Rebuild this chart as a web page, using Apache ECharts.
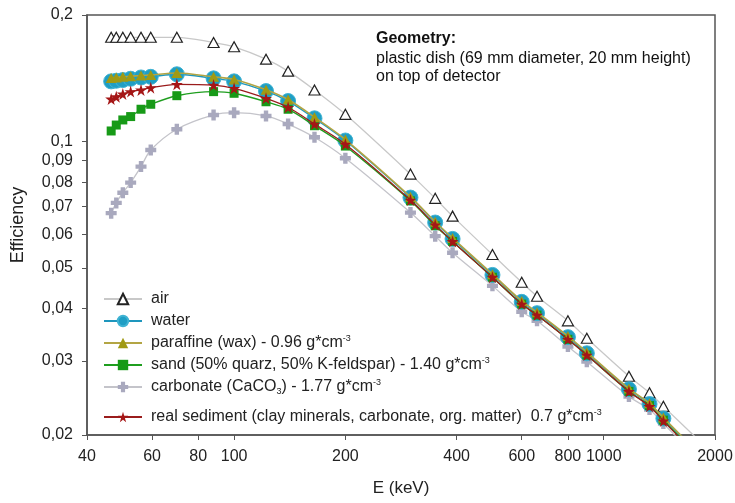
<!DOCTYPE html>
<html>
<head>
<meta charset="utf-8">
<script src="https://cdn.jsdelivr.net/npm/echarts@6/dist/echarts.min.js"></script>
<style>
  html, body { margin: 0; padding: 0; background: #fff; }
  #main { width: 735px; height: 503px; }
</style>
</head>
<body>
<div id="main"></div>
<script>
// gamma energies (keV)
const energies = [46.5, 48, 50, 52.5, 56, 59.5, 70, 88, 100, 122, 140, 165, 200, 300, 350, 390, 500, 600, 660, 800, 900, 1170, 1330, 1450];

const air = [0.177, 0.177, 0.177, 0.177, 0.177, 0.177, 0.177, 0.172, 0.168, 0.157, 0.147, 0.1326, 0.116, 0.0836, 0.0732, 0.0664, 0.0538, 0.0462, 0.0428, 0.0374, 0.034, 0.0276, 0.0252, 0.0234];
const water = [0.139, 0.1395, 0.140, 0.141, 0.142, 0.1425, 0.1445, 0.1413, 0.139, 0.1318, 0.1248, 0.1135, 0.1005, 0.0735, 0.0641, 0.0586, 0.0481, 0.0415, 0.039, 0.0342, 0.0313, 0.0257, 0.0237, 0.0219];
const paraffine = [0.1415, 0.142, 0.1425, 0.143, 0.1435, 0.144, 0.1455, 0.1425, 0.1405, 0.1328, 0.1258, 0.1142, 0.101, 0.0738, 0.0644, 0.0589, 0.0483, 0.0417, 0.0392, 0.0344, 0.0315, 0.0258, 0.0238, 0.022];
const sand = [0.1059, 0.1094, 0.1125, 0.1146, 0.1193, 0.1226, 0.1285, 0.1314, 0.1302, 0.1243, 0.1193, 0.109, 0.0975, 0.0722, 0.063, 0.0578, 0.0475, 0.041, 0.0386, 0.0338, 0.031, 0.0254, 0.0235, 0.0217];
const carbonate = [0.0675, 0.0714, 0.0755, 0.0798, 0.0871, 0.0954, 0.1069, 0.1156, 0.1171, 0.115, 0.110, 0.1023, 0.0912, 0.0677, 0.0595, 0.0543, 0.0453, 0.0393, 0.0374, 0.0325, 0.0299, 0.0247, 0.023, 0.0213];
const sediment = [0.1262, 0.1278, 0.1297, 0.1314, 0.1326, 0.1343, 0.1368, 0.1362, 0.1338, 0.1267, 0.1206, 0.110, 0.0985, 0.0725, 0.0633, 0.0578, 0.0475, 0.041, 0.0386, 0.0338, 0.031, 0.0254, 0.0234, 0.0216];

// where the fitted curves run out past the last point (air, water, paraffine, sand, carbonate, sediment)
const endEnergy = [1800, 1700, 1700, 1700, 1700, 1700];
const endValue = [0.0195, 0.019, 0.0191, 0.0188, 0.01845, 0.0187];

const xTicks = [40, 60, 80, 100, 200, 400, 600, 800, 1000, 2000];
const yTicks = [0.02, 0.03, 0.04, 0.05, 0.06, 0.07, 0.08, 0.09, 0.1, 0.2];
const yTickLabels = ['0,02', '0,03', '0,04', '0,05', '0,06', '0,07', '0,08', '0,09', '0,1', '0,2'];

const names = [
  'air',
  'water',
  'paraffine (wax) - 0.96 g*cm{sup|-3}',
  'sand (50% quarz, 50% K-feldspar) - 1.40 g*cm{sup|-3}',
  'carbonate (CaCO{sub|3}) - 1.77 g*cm{sup|-3}',
  'real sediment (clay minerals, carbonate, org. matter)  0.7 g*cm{sup|-3}'
];

const FONT = '"Liberation Sans", Arial, sans-serif';
const STAR = 'path://M50,0 L61,35 L98,35 L68,57 L79,91 L50,70 L21,91 L32,57 L2,35 L39,35 Z';
const PLUS = 'path://M3,0H7V3H10V7H7V10H3V7H0V3H3Z';

function points(vals, i) {
  let d = energies.map((e, k) => [Math.log10(e), Math.log10(vals[k])]);
  d.push({ value: [Math.log10(endEnergy[i]), Math.log10(endValue[i])], symbol: 'none' });
  return d;
}

function nearestLabel(v, ticks, labels) {
  let best = 0;
  ticks.forEach((t, i) => {
    if (Math.abs(Math.log10(t) - v) < Math.abs(Math.log10(ticks[best]) - v)) best = i;
  });
  return labels[best];
}

function mkSeries(i, vals, opts) {
  return Object.assign({
    name: names[i],
    type: 'line',
    smooth: 0.3,
    data: points(vals, i),
    showAllSymbol: true,
    clip: true
  }, opts);
}

let chart = echarts.init(document.getElementById('main'));

let series = [
  mkSeries(0, air, {
    symbol: 'triangle', symbolSize: [11, 10], z: 2,
    lineStyle: { color: '#c8c8c8', width: 1.3 },
    itemStyle: { color: '#fff', borderColor: '#222', borderWidth: 1.2 }
  }),
  mkSeries(4, carbonate, {
    symbol: PLUS, symbolSize: 11, z: 3,
    lineStyle: { color: '#c4c4ca', width: 1.3 },
    itemStyle: { color: '#a9a9be' }
  }),
  mkSeries(1, water, {
    symbol: 'circle', symbolSize: 15, z: 4,
    lineStyle: { color: '#1e96bd', width: 1.4 },
    itemStyle: { color: '#1f9ec4', borderColor: '#3fb3d3', borderWidth: 1 }
  }),
  mkSeries(3, sand, {
    symbol: 'rect', symbolSize: 9, z: 5,
    lineStyle: { color: '#1f9e1f', width: 1.4 },
    itemStyle: { color: '#179a17' }
  }),
  mkSeries(2, paraffine, {
    symbol: 'triangle', symbolSize: [11, 10], z: 6,
    lineStyle: { color: '#b3a544', width: 1.6 },
    itemStyle: { color: '#a09a14' }
  }),
  mkSeries(5, sediment, {
    symbol: STAR, symbolSize: 12, z: 7,
    lineStyle: { color: '#9a1c1c', width: 1.3 },
    itemStyle: { color: '#a51616' }
  })
];

let legendText = {
  fontSize: 16, fontFamily: FONT, color: '#222', lineHeight: 18, padding: [0, 0, 0, 4],
  rich: {
    sup: { fontSize: 9, fontFamily: FONT, color: '#222', verticalAlign: 'top' },
    sub: { fontSize: 9, fontFamily: FONT, color: '#222', lineHeight: 13, verticalAlign: 'bottom' }
  }
};

let option = {
  backgroundColor: '#fff',
  animation: false,
  grid: {
    left: 87, right: 20, top: 15, bottom: 68,
    show: true, borderColor: '#555', borderWidth: 1.5,
    outerBoundsMode: 'none'
  },
  legend: [
    {
      data: names.slice(0, 5), orient: 'vertical', left: 103, top: 290, padding: 0,
      itemWidth: 38, itemHeight: 13, itemGap: 4, textStyle: legendText
    },
    {
      data: [names[5]], orient: 'vertical', left: 103, top: 408, padding: 0,
      itemWidth: 38, itemHeight: 13, textStyle: legendText
    }
  ],
  xAxis: {
    type: 'value',
    min: Math.log10(40), max: Math.log10(2000),
    name: 'E (keV)', nameLocation: 'middle', nameGap: 45,
    nameTextStyle: { fontSize: 17, fontFamily: FONT, color: '#222' },
    axisLine: { lineStyle: { color: '#555', width: 1.5 } },
    axisTick: { show: true, length: 5, customValues: xTicks.map(Math.log10), lineStyle: { color: '#555' } },
    axisLabel: {
      customValues: xTicks.map(Math.log10), margin: 14,
      fontSize: 16, fontFamily: FONT, color: '#222',
      formatter: v => nearestLabel(v, xTicks, xTicks.map(String))
    },
    splitLine: { show: false }
  },
  yAxis: {
    type: 'value',
    min: Math.log10(0.02), max: Math.log10(0.2),
    name: 'Efficiency', nameLocation: 'middle', nameGap: 60,
    nameTextStyle: { fontSize: 18, fontFamily: FONT, color: '#222' },
    axisLine: { show: true, lineStyle: { color: '#555', width: 1.5 } },
    axisTick: { show: true, length: 5, customValues: yTicks.map(Math.log10), lineStyle: { color: '#555' } },
    axisLabel: {
      customValues: yTicks.map(Math.log10), margin: 14,
      fontSize: 16, fontFamily: FONT, color: '#222',
      formatter: v => nearestLabel(v, yTicks, yTickLabels)
    },
    splitLine: { show: false }
  },
  graphic: [
    {
      type: 'text', left: 376, top: 31,
      style: { text: 'Geometry:', font: 'bold 16px ' + FONT, fill: '#111' }
    },
    {
      type: 'text', left: 376, top: 50,
      style: {
        text: 'plastic dish (69 mm diameter, 20 mm height)\non top of detector',
        font: '16px ' + FONT, fill: '#111', lineHeight: 18
      }
    }
  ],
  series: series
};

chart.setOption(option);
</script>
</body>
</html>
